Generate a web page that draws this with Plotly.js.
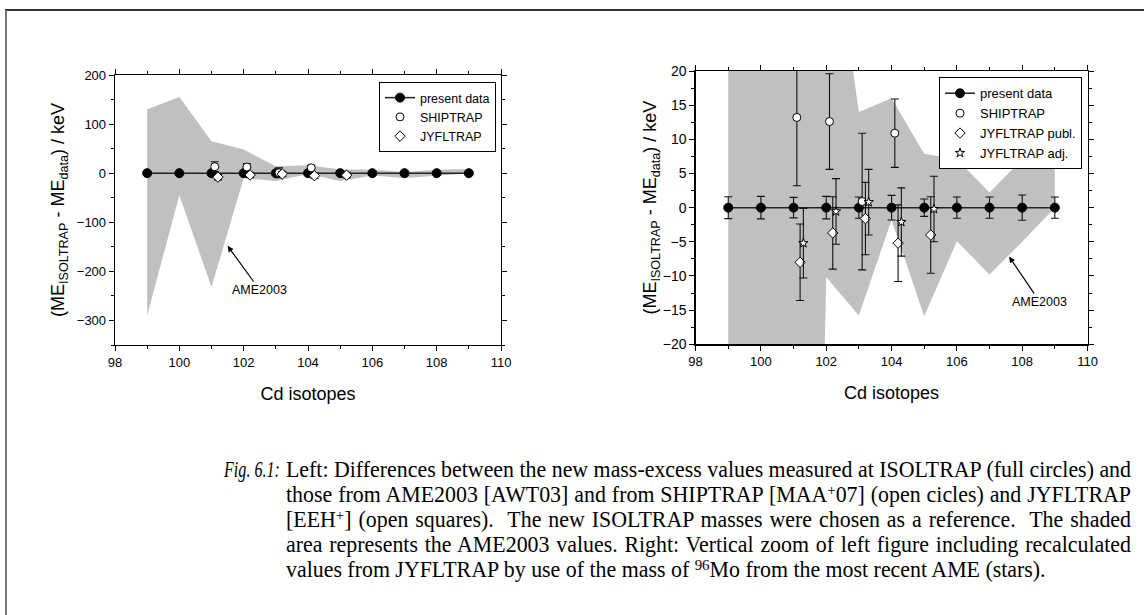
<!DOCTYPE html>
<html>
<head>
<meta charset="utf-8">
<script src="https://cdn.plot.ly/plotly-3.0.1.min.js"></script>
<style>
  body { margin: 0; background: #fff; }
  #wrap { position: relative; width: 1144px; height: 615px; overflow: hidden; background: #fff; }
  #chart { position: absolute; left: 0; top: 0; width: 1144px; height: 615px; }
  #caption { position: absolute; left: 224px; top: 457px; transform-origin: 0 0;
             font-family: "Liberation Serif", "Times New Roman", serif; font-size: 22.5px;
             line-height: 25px; color: #000; }
  #caption .row { position: relative; white-space: nowrap; }
  #caption .txt { display: inline-block; }
  #caption .row.just .txt { text-align: justify; text-align-last: justify; white-space: normal; }
  #caption .lab { position: absolute; left: 0; top: 0; font-style: italic; transform-origin: 0 0; }
  #caption sup { font-size: 0.68em; line-height: 0; vertical-align: 0.45em; }
</style>
</head>
<body>
<div id="wrap">
  <div id="chart"></div>
  <div id="caption">
    <div class="row just"><span class="lab">Fig. 6.1:</span><span class="txt">Left: Differences between the new mass-excess values measured at ISOLTRAP (full circles) and</span></div>
    <div class="row just"><span class="txt">those from AME2003 [AWT03] and from SHIPTRAP [MAA<sup>+</sup>07] (open cicles) and JYFLTRAP</span></div>
    <div class="row just"><span class="txt">[EEH<sup>+</sup>] (open squares).&nbsp; The new ISOLTRAP masses were chosen as a reference.&nbsp; The shaded</span></div>
    <div class="row just"><span class="txt">area represents the AME2003 values. Right: Vertical zoom of left figure including recalculated</span></div>
    <div class="row"><span class="txt">values from JYFLTRAP by use of the mass of <sup>96</sup>Mo from the most recent AME (stars).</span></div>
  </div>
</div>
<script>
// Cd isotopes (mass number A) and mass-excess differences in keV
const isotopes    = [99, 100, 101, 102, 103, 104, 105, 106, 107, 108, 109];
const presentDiff = [0, 0, 0, 0, 0, 0, 0, 0, 0, 0, 0];
const presentErr  = [1.6, 1.65, 1.5, 1.65, 1.55, 1.8, 1.27, 1.55, 1.55, 1.85, 1.55];

// AME2003 uncertainty band (upper / lower edge)
const ameUpper = [130, 155, 65, 48, 14, 16, 7.9, 7.1, 2.2, 7.1, 8.3];
const ameLower = [-290, -45, -232, -10.2, -15.8, -1.8, -15.9, -4.9, -9.8, -5.0, 0.0];

// SHIPTRAP
const shipX    = [101.1, 102.1, 103.1, 104.1];
const shipDiff = [13.2, 12.6, 0.9, 10.9];
const shipErr  = [10, 7, 10, 5];

// JYFLTRAP, published values
const jyflX    = [101.2, 102.2, 103.2, 104.2, 105.2];
const jyflDiff = [-8.0, -3.7, -1.6, -5.2, -4.0];
const jyflErr  = [5.6, 5.3, 5.3, 5.6, 5.6];

// JYFLTRAP, adjusted with the 96Mo mass
const jyflAdjX    = [101.3, 102.3, 103.3, 104.3, 105.3];
const jyflAdjDiff = [-5.2, -0.55, 0.8, -2.1, -0.2];
const jyflAdjErr  = [5.1, 4.8, 4.8, 5.0, 4.8];

const W = 1144, H = 615;
const px = v => v / W;
const py = v => 1 - v / H;

const bandX = isotopes.concat(isotopes.slice().reverse());
const bandY = ameUpper.concat(ameLower.slice().reverse());

function band(xa, ya) {
  return { x: bandX, y: bandY, xaxis: xa, yaxis: ya, type: 'scatter', mode: 'lines',
           fill: 'toself', fillcolor: '#c0c0c0', line: { width: 0, color: '#c0c0c0' },
           showlegend: false, hoverinfo: 'skip' };
}
function errs(arr) {
  return { type: 'data', array: arr, visible: true, color: '#111', thickness: 1.1, width: 4 };
}
function present(xa, ya, lg) {
  return { x: isotopes, y: presentDiff, xaxis: xa, yaxis: ya, legend: lg, name: 'present data',
           type: 'scatter', mode: 'lines+markers', error_y: errs(presentErr),
           line: { color: '#222', width: 1.5 },
           marker: { symbol: 'circle', size: 9, color: '#000', line: { color: '#000', width: 1 } } };
}
function ship(xa, ya, lg) {
  return { x: shipX, y: shipDiff, xaxis: xa, yaxis: ya, legend: lg, name: 'SHIPTRAP',
           type: 'scatter', mode: 'markers', error_y: errs(shipErr),
           marker: { symbol: 'circle', size: 8, color: '#fff', line: { color: '#000', width: 1 } } };
}
function jyfl(xa, ya, lg, name) {
  return { x: jyflX, y: jyflDiff, xaxis: xa, yaxis: ya, legend: lg, name: name,
           type: 'scatter', mode: 'markers', error_y: errs(jyflErr),
           marker: { symbol: 'diamond', size: 8, color: '#fff', line: { color: '#000', width: 1 } } };
}
const adj = { x: jyflAdjX, y: jyflAdjDiff, xaxis: 'x2', yaxis: 'y2', legend: 'legend2',
              name: 'JYFLTRAP adj.', type: 'scatter', mode: 'markers', error_y: errs(jyflAdjErr),
              marker: { symbol: 'star', size: 7, color: '#fff', line: { color: '#000', width: 1 } } };

const traces = [
  band('x', 'y'), present('x', 'y', 'legend'), ship('x', 'y', 'legend'), jyfl('x', 'y', 'legend', 'JYFLTRAP'),
  band('x2', 'y2'), present('x2', 'y2', 'legend2'), ship('x2', 'y2', 'legend2'),
  jyfl('x2', 'y2', 'legend2', 'JYFLTRAP publ.'), adj
];

const FONT = 'Liberation Sans, Arial, sans-serif';
const yTitle = '(ME<sub>ISOLTRAP</sub> - ME<sub>data</sub>) / keV';

function xAxis(dom, anchor) {
  return { domain: dom, anchor: anchor, range: [98, 110], tick0: 98, dtick: 2,
           ticks: 'outside', ticklen: 5, tickwidth: 1, tickcolor: '#000',
           minor: { dtick: 1, ticks: 'outside', ticklen: 3, tickwidth: 1, tickcolor: '#000' },
           showline: true, linecolor: '#000', linewidth: 1.3, mirror: 'allticks',
           showgrid: false, zeroline: false, tickfont: { size: 13, color: '#000' },
           title: { text: 'Cd isotopes', font: { size: 18, color: '#000' }, standoff: 18 } };
}
function yAxis(dom, anchor, range, dt, size, standoff) {
  return { domain: dom, anchor: anchor, range: range, dtick: dt,
           ticks: 'outside', ticklen: 5, tickwidth: 1, tickcolor: '#000',
           minor: { dtick: dt / 2, ticks: 'outside', ticklen: 3, tickwidth: 1, tickcolor: '#000' },
           showline: true, linecolor: '#000', linewidth: 1.3, mirror: 'allticks',
           showgrid: false, zeroline: false, tickfont: { size: size, color: '#000' },
           title: { text: yTitle, font: { size: 18, color: '#000' }, standoff: standoff } };
}

const layout = {
  width: W, height: H,
  margin: { l: 0, r: 0, t: 0, b: 0 },
  paper_bgcolor: '#fff', plot_bgcolor: '#fff',
  font: { family: FONT, color: '#000' },
  xaxis:  xAxis([px(115), px(501)], 'y'),
  yaxis:  yAxis([py(345), py(75)], 'x', [-350, 200], 100, 13, 7),
  xaxis2: xAxis([px(695.6), px(1087.5)], 'y2'),
  yaxis2: yAxis([py(344.3), py(71)], 'x2', [-20, 20], 5, 14, 1),
  legend:  { x: px(496), xanchor: 'right', y: py(82), yanchor: 'top',
             bordercolor: '#000', borderwidth: 1, bgcolor: '#fff',
             font: { size: 12.5, color: '#000' }, tracegroupgap: 0, itemwidth: 30 },
  legend2: { x: px(1082), xanchor: 'right', y: py(77.3), yanchor: 'top',
             bordercolor: '#000', borderwidth: 1, bgcolor: '#fff',
             font: { size: 13, color: '#000' }, tracegroupgap: 0, itemwidth: 30 },
  annotations: [
    { xref: 'x', yref: 'y', axref: 'x', ayref: 'y', x: 101.5, y: -148, ax: 102.5, ay: -238,
      text: 'AME2003', showarrow: true, arrowhead: 2, arrowsize: 1, arrowwidth: 1.2,
      arrowcolor: '#000', font: { size: 12.5, color: '#000' } },
    { xref: 'x2', yref: 'y2', axref: 'x2', ayref: 'y2', x: 107.6, y: -7.17, ax: 108.54, ay: -13.8,
      text: 'AME2003', showarrow: true, arrowhead: 2, arrowsize: 1, arrowwidth: 1.2,
      arrowcolor: '#000', font: { size: 12.5, color: '#000' } }
  ],
  shapes: [
    { type: 'line', xref: 'paper', yref: 'paper', x0: px(5), x1: 1, y0: py(10), y1: py(10),
      line: { color: '#333', width: 2 } },
    { type: 'line', xref: 'paper', yref: 'paper', x0: px(6), x1: px(6), y0: py(10), y1: 0,
      line: { color: '#777', width: 2 } }
  ]
};

Plotly.newPlot('chart', traces, layout, { displayModeBar: false, staticPlot: true }).then(setCaption);

// Typeset the caption: one horizontal scale so the longest line spans the column,
// remaining full lines justified to the same width, figure label kept in its hanging indent.
function setCaption() {
  const cap = document.getElementById('caption');
  const indent = 62, column = 907 - indent, labelW = 56;
  const txts = cap.querySelectorAll('.txt');
  let maxW = 0;
  txts.forEach(t => { maxW = Math.max(maxW, t.getBoundingClientRect().width); });
  const s = column / maxW;
  cap.style.transform = 'scaleX(' + s + ')';
  txts.forEach(t => { t.style.marginLeft = (indent / s) + 'px'; });
  cap.querySelectorAll('.row.just .txt').forEach(t => { t.style.width = maxW + 'px'; });
  const lab = cap.querySelector('.lab');
  const lw = lab.getBoundingClientRect().width;   // already includes the caption scale
  if (lw > labelW) lab.style.transform = 'scaleX(' + (labelW / lw) + ')';
}
</script>
</body>
</html>
